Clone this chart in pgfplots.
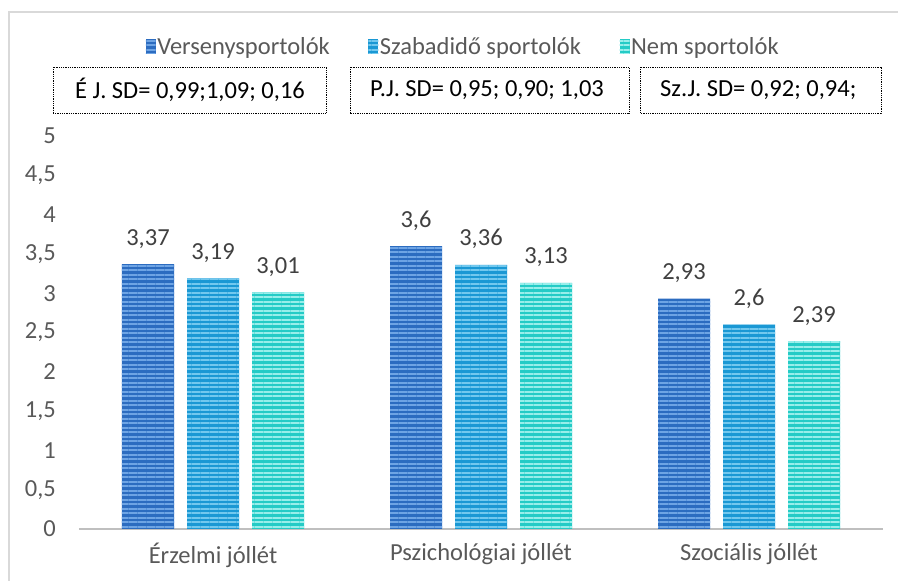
\documentclass[border=0pt]{standalone}
\usepackage{pgfplots}
\pgfplotsset{compat=1.18}
\usepackage{fontspec}
\setmainfont{Carlito}
\usetikzlibrary{patterns.meta}
\definecolor{cA}{HTML}{2C6CC0}
\definecolor{cAl}{HTML}{6EA4E4}
\definecolor{cB}{HTML}{1A98D4}
\definecolor{cBl}{HTML}{72C8EE}
\definecolor{cC}{HTML}{24CBC6}
\definecolor{cCl}{HTML}{98EEEA}
\definecolor{tgray}{HTML}{595959}
\definecolor{lgray}{HTML}{404040}
\newcommand\f{\fontsize{24.5}{28}\selectfont}
\begin{document}
\begin{tikzpicture}[font=\f]
\path[use as bounding box] (-79pt,-52pt) rectangle (819pt,529pt);
\draw[black!15, line width=1.5pt] (-70pt,-80pt) -- (-70pt,517pt) -- (840pt,517pt);
\begin{axis}[
  scale only axis, width=804pt, height=393pt,
  ymin=0, ymax=5, xmin=-0.5, xmax=2.5,
  ybar=13pt, bar width=52pt,
  axis x line*=bottom, axis y line*=left,
  y axis line style={draw=none},
  x axis line style={draw=black!25, line width=2.5pt},
  major tick length=0pt,
  xtick={0,1,2},
  xticklabels={Érzelmi jóllét, Pszichológiai jóllét, Szociális jóllét},
  ytick={0,0.5,1,1.5,2,2.5,3,3.5,4,4.5,5},
  /pgf/number format/use comma,
  /pgf/number format/assume math mode=true,
  yticklabel style={text=tgray, anchor=east, inner sep=0pt, xshift=-23pt},
  xticklabel style={text=tgray, anchor=north, inner sep=0pt, yshift=-14pt},
  nodes near coords,
  every node near coord/.append style={text=lgray, anchor=base, inner sep=0pt, yshift=19pt},
  legend columns=-1,
  legend style={at={(0.4776,1.2265)}, anchor=center, draw=none, fill=none,
    text=tgray, inner sep=0pt,
    /tikz/every even column/.append style={column sep=37pt},
    nodes={inner sep=1.5pt}},
  legend image code/.code={\path[#1, draw=none] (0pt,-7pt) rectangle (10pt,8pt);},
]
\addplot[draw=none, fill=cA, postaction={pattern={Lines[angle=0,distance=4.5pt,line width=2pt]}, pattern color=cAl}]
  coordinates {(0,3.37) (1,3.6) (2,2.93)};
\addplot[draw=none, fill=cB, postaction={pattern={Lines[angle=0,distance=4.5pt,line width=2pt]}, pattern color=cBl}]
  coordinates {(0,3.19) (1,3.36) (2,2.6)};
\addplot[draw=none, fill=cC, postaction={pattern={Lines[angle=0,distance=4.5pt,line width=2pt]}, pattern color=cCl}]
  coordinates {(0,3.01) (1,3.13) (2,2.39)};
\legend{Versenysportolók, Szabadidő sportolók, Nem sportolók}
\end{axis}
\draw[black, line width=0.9pt, dash pattern=on 0.9pt off 0.9pt] (-26pt,416pt) rectangle (247pt,462pt);
\draw[black, line width=0.9pt, dash pattern=on 0.9pt off 0.9pt] (271pt,416pt) rectangle (550pt,462pt);
\draw[black, line width=0.9pt, dash pattern=on 0.9pt off 0.9pt] (561pt,416pt) rectangle (802pt,462pt);
\node[anchor=west, inner sep=0pt] at (-4pt,439pt) {É J. SD= 0,99;1,09; 0,16};
\node[anchor=west, inner sep=0pt] at (291pt,439pt) {P.J. SD= 0,95; 0,90; 1,03};
\node[anchor=west, inner sep=0pt] at (581pt,439pt) {Sz.J. SD= 0,92; 0,94;};
\end{tikzpicture}
\end{document}
